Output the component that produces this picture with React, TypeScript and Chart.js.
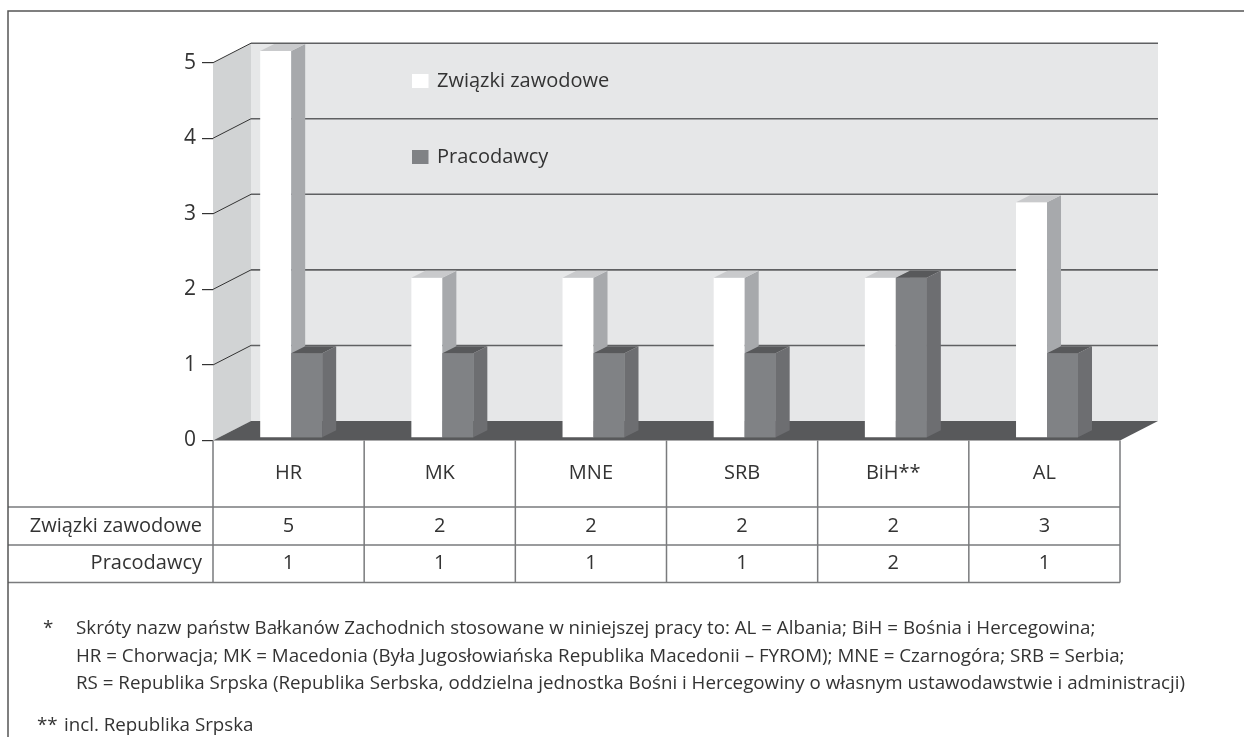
import React, { useEffect, useRef } from "react";
import { Chart, registerables } from "chart.js";

Chart.register(...registerables);

// ---------- data ----------
const categories = ["HR", "MK", "MNE", "SRB", "BiH**", "AL"];
const seriesNames = ["Związki zawodowe", "Pracodawcy"];
const unions = [5, 2, 2, 2, 2, 3];
const employers = [1, 1, 1, 1, 2, 1];
const yMin = 0;
const yMax = 5;
const yStep = 1;
const footnoteMarks = ["*", "", "", "**"];
const footnoteLines = [
  "Skróty nazw państw Bałkanów Zachodnich stosowane w niniejszej pracy to: AL = Albania; BiH = Bośnia i Hercegowina;",
  "HR = Chorwacja; MK = Macedonia (Była Jugosłowiańska Republika Macedonii – FYROM); MNE = Czarnogóra; SRB = Serbia;",
  "RS = Republika Srpska (Republika Serbska, oddzielna jednostka Bośni i Hercegowiny o własnym ustawodawstwie i administracji)",
  "incl. Republika Srpska",
];

// ---------- layout / style ----------
const W = 1244;
const H = 737;
const PLOT_LEFT = 213;
const PLOT_RIGHT = 1120;
const PLOT_TOP = 62.7;
const PLOT_BOTTOM = 440.5;
const DEPTH = { dx: 38, dy: -19.5 };
const BAR_SHIFT = { dx: 2.6, dy: -11.6 };
const BAR_DEPTH = { dx: 14, dy: -7 };
const BAR_BASE = -0.111;
const ROW_LINES = [507, 545, 582.5];
const FRAME = { left: 8, top: 11 };
const FONT = "'Open Sans', 'Noto Sans', sans-serif";
const TEXT = "#333333";
const TABLE_FONT_SIZE = 20;
const TICK_FONT_SIZE = 21;
const FOOT_FONT_SIZE = 18.75;
const COLORS = {
  backWall: "#e6e7e8",
  sideWall: "#d1d3d4",
  floor: "#58595b",
  grid: "#5f6062",
  tick: "#333333",
  table: "#7a7b7d",
  frame: "#555555",
  whiteFront: "#ffffff",
  whiteSide: "#a7a9ac",
  whiteTop: "#c9cacc",
  darkFront: "#808285",
  darkSide: "#6d6e71",
  darkTop: "#58595b",
};
const FACE_COLORS = [
  { side: COLORS.whiteSide, top: COLORS.whiteTop },
  { side: COLORS.darkSide, top: COLORS.darkTop },
];
const LEGEND_POS = [
  { x: 412, y: 81 },
  { x: 412, y: 157 },
];
const FOOT_Y = [626.5, 654.5, 681.5, 724];

function drawFaces(ctx: CanvasRenderingContext2D, meta: any, faces: { side: string; top: string }) {
  const { dx, dy } = BAR_DEPTH;
  for (const el of meta.data) {
    const { x, y, base, width } = el.getProps(["x", "y", "base", "width"], true);
    const l = x - width / 2;
    const r = x + width / 2;
    ctx.fillStyle = faces.side;
    ctx.beginPath();
    ctx.moveTo(r, y);
    ctx.lineTo(r + dx, y + dy);
    ctx.lineTo(r + dx, base + dy);
    ctx.lineTo(r, base);
    ctx.closePath();
    ctx.fill();
    ctx.fillStyle = faces.top;
    ctx.beginPath();
    ctx.moveTo(l, y);
    ctx.lineTo(l + dx, y + dy);
    ctx.lineTo(r + dx, y + dy);
    ctx.lineTo(r, y);
    ctx.closePath();
    ctx.fill();
  }
}

const scenePlugin = {
  id: "scene3d",
  beforeDatasetsDraw(chart: any) {
    const { ctx, chartArea: a } = chart;
    const y = chart.scales.y;
    const { dx, dy } = DEPTH;
    ctx.save();
    // side wall
    ctx.fillStyle = COLORS.sideWall;
    ctx.beginPath();
    ctx.moveTo(a.left, a.top);
    ctx.lineTo(a.left + dx, a.top + dy);
    ctx.lineTo(a.left + dx, a.bottom + dy);
    ctx.lineTo(a.left, a.bottom);
    ctx.closePath();
    ctx.fill();
    // back wall
    ctx.fillStyle = COLORS.backWall;
    ctx.fillRect(a.left + dx, a.top + dy, a.right - a.left, a.bottom - a.top);
    // grid lines
    for (const t of y.ticks) {
      if (t.value === 0) continue;
      const py = y.getPixelForValue(t.value);
      ctx.strokeStyle = COLORS.tick;
      ctx.lineWidth = 1;
      ctx.beginPath();
      ctx.moveTo(a.left, py);
      ctx.lineTo(a.left + dx, py + dy);
      ctx.stroke();
      ctx.strokeStyle = COLORS.grid;
      ctx.lineWidth = 1.6;
      ctx.beginPath();
      ctx.moveTo(a.left + dx, py + dy);
      ctx.lineTo(a.right + dx, py + dy);
      ctx.stroke();
    }
    // floor
    ctx.fillStyle = COLORS.floor;
    ctx.beginPath();
    ctx.moveTo(a.left, a.bottom);
    ctx.lineTo(a.left + dx, a.bottom + dy);
    ctx.lineTo(a.right + dx, a.bottom + dy);
    ctx.lineTo(a.right, a.bottom);
    ctx.closePath();
    ctx.fill();
    ctx.restore();
    // bars sit a bit behind the front plane
    ctx.save();
    ctx.translate(BAR_SHIFT.dx, BAR_SHIFT.dy);
  },
  afterDatasetsDraw(chart: any) {
    const { ctx } = chart;
    const metaWhite = chart.getDatasetMeta(0);
    const metaDark = chart.getDatasetMeta(1);
    // white bars' depth faces, then the darker bars stand in front of them
    drawFaces(ctx, metaWhite, FACE_COLORS[0]);
    for (const el of metaDark.data) el.draw(ctx);
    drawFaces(ctx, metaDark, FACE_COLORS[1]);
    ctx.restore();
  },
  afterDraw(chart: any) {
    const { ctx, chartArea: a } = chart;
    const n = categories.length;
    const cw = (a.right - a.left) / n;
    ctx.save();
    // legend
    ctx.font = `${TABLE_FONT_SIZE}px ${FONT}`;
    ctx.textBaseline = "middle";
    ctx.textAlign = "left";
    chart.data.datasets.forEach((ds: any, i: number) => {
      const p = LEGEND_POS[i];
      ctx.fillStyle = ds.backgroundColor;
      ctx.fillRect(p.x, p.y - 7, 16.5, 14);
      ctx.fillStyle = TEXT;
      ctx.fillText(ds.label, p.x + 25, p.y);
    });
    // table lines
    ctx.strokeStyle = COLORS.table;
    ctx.lineWidth = 1.5;
    ctx.beginPath();
    for (let i = 0; i <= n; i++) {
      const x = a.left + i * cw;
      ctx.moveTo(x, a.bottom);
      ctx.lineTo(x, ROW_LINES[2]);
    }
    for (const ry of ROW_LINES) {
      ctx.moveTo(FRAME.left, ry);
      ctx.lineTo(a.right, ry);
    }
    ctx.stroke();
    // table text
    const rows = [
      { label: seriesNames[0], values: unions },
      { label: seriesNames[1], values: employers },
    ];
    ctx.fillStyle = TEXT;
    ctx.font = `${TABLE_FONT_SIZE}px ${FONT}`;
    rows.forEach((row, r) => {
      const cy = (ROW_LINES[r] + ROW_LINES[r + 1]) / 2;
      ctx.textAlign = "right";
      ctx.fillText(row.label, a.left - 11, cy);
      ctx.textAlign = "center";
      row.values.forEach((v, i) => {
        ctx.fillText(String(v), chart.scales.x.getPixelForValue(i), cy);
      });
    });
    // outer frame
    ctx.strokeStyle = COLORS.frame;
    ctx.lineWidth = 1.5;
    ctx.beginPath();
    ctx.moveTo(FRAME.left, H);
    ctx.lineTo(FRAME.left, FRAME.top);
    ctx.lineTo(W, FRAME.top);
    ctx.stroke();
    ctx.restore();
  },
};

export default function App() {
  const canvasRef = useRef<HTMLCanvasElement | null>(null);

  useEffect(() => {
    if (!canvasRef.current) return;
    Chart.defaults.font.family = FONT;
    const chart = new Chart(canvasRef.current, {
      type: "bar",
      data: {
        labels: categories,
        datasets: [
          {
            label: seriesNames[0],
            data: unions,
            backgroundColor: COLORS.whiteFront,
            borderWidth: 0,
            base: BAR_BASE,
            clip: false,
            categoryPercentage: 0.41,
            barPercentage: 1,
          } as any,
          {
            label: seriesNames[1],
            data: employers,
            backgroundColor: COLORS.darkFront,
            borderWidth: 0,
            base: BAR_BASE,
            clip: false,
            categoryPercentage: 0.41,
            barPercentage: 1,
          } as any,
        ],
      },
      options: {
        responsive: false,
        animation: false,
        devicePixelRatio: 1,
        layout: { padding: { top: PLOT_TOP, right: W - PLOT_RIGHT, left: 0, bottom: 0 } },
        plugins: { legend: { display: false }, tooltip: { enabled: false } },
        scales: {
          x: {
            type: "category",
            grid: { display: false, drawTicks: false },
            border: { display: false },
            ticks: { color: TEXT, font: { size: TABLE_FONT_SIZE }, padding: 21, maxRotation: 0 },
            afterFit: (s: any) => {
              s.height = H - PLOT_BOTTOM;
            },
          },
          y: {
            min: yMin,
            max: yMax,
            ticks: { stepSize: yStep, color: TEXT, font: { size: TICK_FONT_SIZE }, padding: 6 },
            grid: { drawOnChartArea: false, drawTicks: true, tickLength: 11, color: COLORS.tick, lineWidth: 1.2 },
            border: { display: false },
            afterFit: (s: any) => {
              s.width = PLOT_LEFT;
            },
          },
        },
      },
      plugins: [scenePlugin],
    });
    return () => chart.destroy();
  }, []);

  const footStyle = {
    position: "absolute" as const,
    lineHeight: "24px",
    fontFamily: FONT,
    fontSize: FOOT_FONT_SIZE,
    color: TEXT,
    whiteSpace: "nowrap" as const,
  };

  return (
    <div style={{ position: "absolute", left: 0, top: 0, width: W, height: H, background: "#fff", overflow: "hidden" }}>
      <canvas ref={canvasRef} width={W} height={H} style={{ position: "absolute", left: 0, top: 0, width: W, height: H }} />
      {footnoteLines.map((line, i) => (
        <React.Fragment key={i}>
          {footnoteMarks[i] && (
            <div style={{ ...footStyle, left: footnoteMarks[i] === "*" ? 43 : 37, top: FOOT_Y[i] - 12 }}>
              {footnoteMarks[i]}
            </div>
          )}
          <div style={{ ...footStyle, left: i === 3 ? 64 : 76, top: FOOT_Y[i] - 12 }}>{line}</div>
        </React.Fragment>
      ))}
    </div>
  );
}
